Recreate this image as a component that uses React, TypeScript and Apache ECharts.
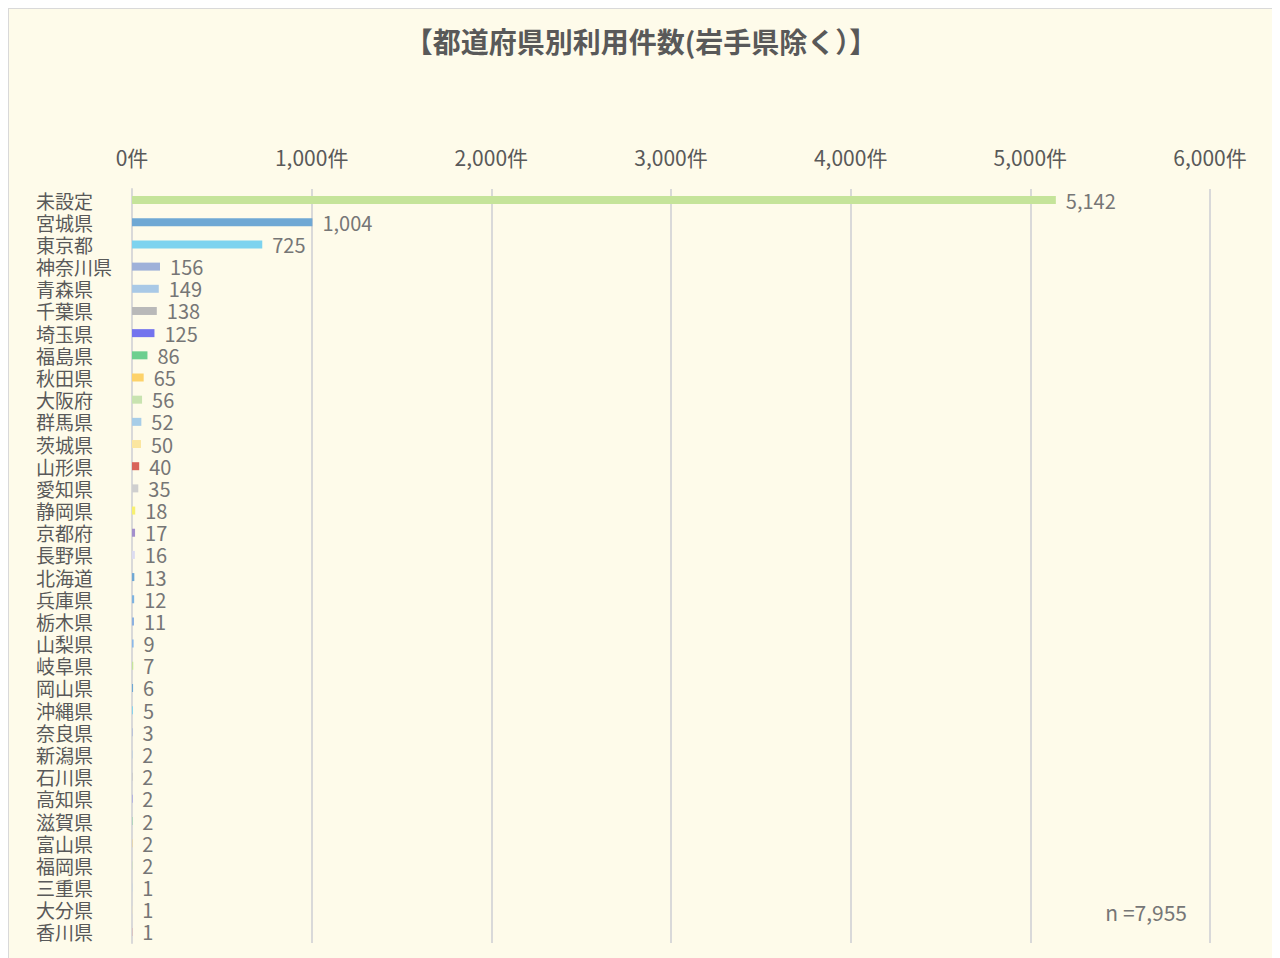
import React, { useEffect, useRef } from "react";
import * as echarts from "echarts";

const categories = [
  "未設定", "宮城県", "東京都", "神奈川県", "青森県", "千葉県", "埼玉県", "福島県", "秋田県", "大阪府",
  "群馬県", "茨城県", "山形県", "愛知県", "静岡県", "京都府", "長野県", "北海道", "兵庫県", "栃木県",
  "山梨県", "岐阜県", "岡山県", "沖縄県", "奈良県", "新潟県", "石川県", "高知県", "滋賀県", "富山県",
  "福岡県", "三重県", "大分県", "香川県",
];
const values = [
  5142, 1004, 725, 156, 149, 138, 125, 86, 65, 56,
  52, 50, 40, 35, 18, 17, 16, 13, 12, 11,
  9, 7, 6, 5, 3, 2, 2, 2, 2, 2,
  2, 1, 1, 1,
];
const barColors = [
  "#c5e49a", "#6fa8d4", "#7dd3ef", "#9fb1d9", "#a9c9e6", "#b9b9b9", "#7373ee", "#6dcf8f", "#fdd26a", "#c8e3b0",
  "#a7cde8", "#fbe6a0", "#d9645a", "#cfcfcf", "#f7f070", "#a38fcc", "#dcdcf0", "#6fa8d4", "#7db3e0", "#8ab0e0",
  "#8ab8e8", "#c5e49a", "#6fa8d4", "#7dd3ef", "#9fb1d9", "#a9c9e6", "#b9b9b9", "#7373ee", "#6dcf8f", "#fdd26a",
  "#c8e3b0", "#a7cde8", "#fbe6a0", "#d9645a",
];
const axisTicks = [0, 1000, 2000, 3000, 4000, 5000, 6000];
const titleText = "【都道府県別利用件数(岩手県除く）】";
const totalText = "n =7,955";

const FONT = "'Noto Sans CJK JP', 'Noto Sans', sans-serif";

export default function App() {
  const ref = useRef<HTMLDivElement>(null);
  useEffect(() => {
    if (!ref.current) return;
    const chart = echarts.init(ref.current, null, { renderer: "svg" });
    chart.setOption({
      animation: false,
      backgroundColor: "#fefbea",
      textStyle: { fontFamily: FONT },
      title: {
        text: titleText,
        left: "center",
        top: 13,
        textStyle: { fontFamily: FONT, fontSize: 28, fontWeight: "bold", color: "#595959" },
      },
      grid: { left: 123, right: 63, top: 180, bottom: 16 },
      xAxis: {
        type: "value",
        position: "top",
        min: axisTicks[0],
        max: axisTicks[axisTicks.length - 1],
        interval: 1000,
        axisLine: { show: false },
        axisTick: { show: false },
        splitLine: { lineStyle: { color: "#d9d9d9", width: 2 } },
        axisLabel: {
          margin: 22,
          fontFamily: FONT,
          fontSize: 21,
          color: "#595959",
          formatter: (v: number) => v.toLocaleString("en-US") + "件",
        },
      },
      yAxis: {
        type: "category",
        inverse: true,
        data: categories,
        axisLine: { show: true, lineStyle: { color: "#d9d9d9", width: 2 } },
        axisTick: { show: false },
        axisLabel: {
          interval: 0,
          align: "left",
          margin: 96,
          fontFamily: FONT,
          fontSize: 19,
          lineHeight: 19,
          color: "#595959",
        },
      },
      series: [
        {
          type: "bar",
          barWidth: 8,
          data: values.map((v, i) => ({ value: v, itemStyle: { color: barColors[i] } })),
          label: {
            show: true,
            position: "right",
            distance: 10,
            fontFamily: FONT,
            fontSize: 20,
            lineHeight: 19,
            color: "#767676",
            formatter: (p: any) => Number(p.value).toLocaleString("en-US"),
          },
        },
      ],
      graphic: [
        {
          type: "text",
          right: 86,
          top: 892,
          style: { text: totalText, fontFamily: FONT, fontSize: 21, fill: "#767676" },
        },
      ],
    });
    return () => chart.dispose();
  }, []);
  return (
    <div
      ref={ref}
      style={{ width: 1264, height: 950, border: "1px solid #d9d9d9" }}
    />
  );
}
